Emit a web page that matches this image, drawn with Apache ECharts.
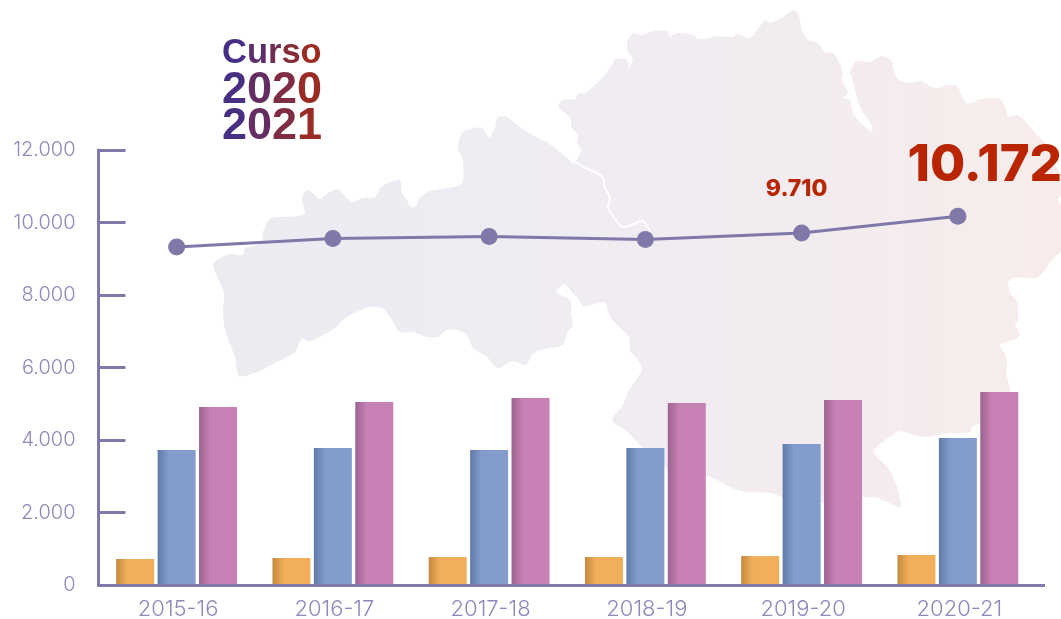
<!DOCTYPE html>
<html><head><meta charset="utf-8">
<style>html,body{margin:0;padding:0;background:#fff}#c{width:1061px;height:619px}</style>
<script src="https://cdn.jsdelivr.net/npm/echarts@6/dist/echarts.min.js"></script>
</head><body><div id="c"></div>
<script>
const categories = ['2015-16','2016-17','2017-18','2018-19','2019-20','2020-21'];
const seriesOrange = [717,745,772,772,800,828];
const seriesBlue = [3724,3779,3724,3779,3890,4055];
const seriesPink = [4910,5048,5159,5021,5103,5324];
const seriesTotal = [9324,9559,9614,9531,9710,10172];
const yTicks = {min:0,max:12000,interval:2000};
const titleLines = ['Curso','2020','2021'];

const mapOutline = [[213,265],[220,258],[230,254],[243,255],[245,248],[255,246],[262,242],[263,232],[270,219],[280,217],[300,216],[305,213],[302,198],[307,190],[313,193],[320,199],[330,192],[338,189],[344,195],[352,202],[363,198],[375,197],[380,188],[388,183],[400,180],[402,193],[407,200],[410,206],[415,207],[420,198],[430,191],[447,188],[462,184],[463,160],[458,148],[462,133],[473,128],[482,128],[490,138],[492,133],[495,128],[498,117],[507,117],[513,122],[527,132],[548,143],[565,156],[574,163],[581,150],[577,143],[578,135],[572,128],[570,118],[558,106],[563,100],[575,99],[578,94],[585,93],[597,83],[607,72],[612,65],[615,59],[625,59],[629,64],[627,71],[633,59],[627,50],[628,40],[633,33],[642,35],[653,31],[667,31],[670,36],[678,33],[693,35],[698,39],[710,38],[715,36],[733,37],[737,34],[750,38],[757,30],[766,20],[770,23],[783,17],[793,10],[798,13],[802,30],[808,40],[818,43],[825,52],[833,53],[838,60],[843,72],[842,80],[848,93],[843,98],[850,100],[853,113],[860,122],[872,132],[872,126],[860,107],[855,90],[852,78],[850,72],[857,61],[870,62],[882,56],[892,61],[893,68],[898,79],[910,83],[922,81],[932,87],[940,88],[947,85],[957,86],[963,98],[968,104],[980,99],[1000,99],[1007,112],[1008,117],[1017,115],[1027,123],[1037,135],[1045,143],[1055,165],[1064,180],[1064,192],[1058,200],[1064,210],[1064,247],[1050,262],[1045,270],[1037,278],[1017,277],[1008,282],[1010,293],[1017,302],[1018,320],[1015,325],[1020,335],[1013,340],[1000,345],[1007,358],[1006,373],[1010,392],[995,415],[972,427],[970,432],[950,433],[923,437],[900,431],[895,433],[874,450],[877,457],[888,468],[897,487],[901,507],[897,507],[883,500],[877,498],[867,497],[850,497],[800,505],[772,493],[750,492],[737,490],[710,477],[667,468],[640,445],[628,432],[613,422],[613,417],[623,405],[628,392],[642,370],[640,363],[630,350],[629,337],[615,323],[608,312],[605,302],[583,306],[578,298],[573,294],[565,284],[556,292],[567,298],[571,302],[571,313],[573,325],[567,333],[563,345],[540,350],[532,355],[526,365],[513,361],[498,368],[487,357],[473,348],[467,335],[457,330],[447,330],[438,337],[427,337],[413,332],[400,332],[390,317],[382,308],[370,307],[347,317],[332,330],[310,341],[302,339],[295,352],[277,362],[257,372],[239,376],[235,357],[225,330],[223,310],[224,293]];
const riverLine = [[573,160],[583,167],[597,173],[603,178],[605,188],[610,198],[608,208],[623,227],[643,221],[650,232]];

const AXIS = '#7f78a8', LABEL = '#8f88ba', RED = '#b82500';
const fmt = v => String(v).replace(/\B(?=(\d{3})+$)/g,'.');
const grad = (dark, light) => new echarts.graphic.LinearGradient(0,0,1,0,[
  {offset:0,color:dark},{offset:0.3,color:light},{offset:1,color:light}]);

// zrender text cannot take a gradient fill, so the title fades letter by letter
const fade = t => {
  const a=[60,47,145], b=[166,44,20];
  return 'rgb('+a.map((c,i)=>Math.round(c+(b[i]-c)*t)).join(',')+')';
};
const titleText = (line, fontSize, top) => {
  const rich = {}; let text = '';
  [...line].forEach((ch,i)=>{
    const k='c'+i;
    rich[k]={fill:fade((i+0.5)/line.length),fontFamily:'Liberation Sans',fontWeight:'bold',fontSize};
    text+='{'+k+'|'+ch+'}';
  });
  return {type:'text',z:6,left:222,top,silent:true,style:{text,rich}};
};

const bar = (name,data,dark,light) => ({name,type:'bar',data,barWidth:38,barGap:'9%',
  itemStyle:{color:grad(dark,light)},z:2});

const chart = echarts.init(document.getElementById('c'),null,{renderer:'canvas'});
chart.setOption({
  animation:false,
  backgroundColor:'#fff',
  grid:{left:98.5,top:150,width:937.5,height:435,outerBoundsMode:'none',containLabel:false},
  xAxis:{type:'category',data:categories,
    axisLine:{lineStyle:{color:AXIS,width:3}},axisTick:{show:false},
    axisLabel:{color:LABEL,fontFamily:'Inter',fontWeight:300,fontSize:22,margin:13,padding:[0,0,0,3]},z:5},
  yAxis:{type:'value',min:yTicks.min,max:yTicks.max,interval:yTicks.interval,
    axisLine:{show:true,lineStyle:{color:AXIS,width:3}},
    axisTick:{show:true,inside:true,length:27,lineStyle:{color:AXIS,width:3}},
    splitLine:{show:false},
    axisLabel:{color:LABEL,fontFamily:'Inter',fontWeight:300,fontSize:20,margin:23,formatter:fmt},z:5},
  graphic:[
    {type:'polygon',z:-2,silent:true,shape:{points:mapOutline,smooth:0.25},
      style:{fill:new echarts.graphic.LinearGradient(0,0,1,0,[
        {offset:0,color:'#ecebf2'},{offset:0.5,color:'#f0ecf2'},{offset:1,color:'#f7ecea'}])}},
    {type:'polyline',z:-1,silent:true,shape:{points:riverLine,smooth:0.25},
      style:{stroke:'#fff',lineWidth:2,fill:'none'}},
    {type:'line',z:4,silent:true,shape:{x1:1034,y1:585.5,x2:1045,y2:585.5},
      style:{stroke:AXIS,lineWidth:3}},
    titleText(titleLines[0],34.5,36),
    titleText(titleLines[1],45,68),
    titleText(titleLines[2],45,104)
  ],
  series:[
    bar('a',seriesOrange,'#c48a3f','#f1af5c'),
    bar('b',seriesBlue,'#5f7ba8','#829dcb'),
    bar('c',seriesPink,'#9c6390','#c781b4'),
    {name:'total',type:'line',z:3,symbol:'circle',symbolSize:17,
      lineStyle:{color:AXIS,width:3},itemStyle:{color:AXIS},
      data:seriesTotal.map((v,i)=>{
        if(i===4) return {value:v,label:{show:true,position:'top',offset:[-5,-19],formatter:p=>fmt(p.value),
          color:RED,fontFamily:'Inter',fontWeight:800,fontSize:23}};
        if(i===5) return {value:v,label:{show:true,position:'top',offset:[27,-12],formatter:p=>fmt(p.value),
          color:RED,fontFamily:'Inter',fontWeight:800,fontSize:51}};
        return v;
      })}
  ]
});
</script></body></html>
